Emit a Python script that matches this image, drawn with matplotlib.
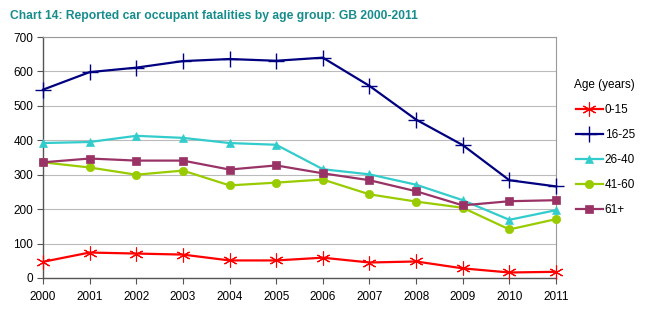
import matplotlib
matplotlib.use("Agg")
import matplotlib.pyplot as plt

years = list(range(2000, 2012))
age_groups = ["0-15", "16-25", "26-40", "41-60", "61+"]
v_0_15 = [47, 74, 71, 68, 51, 51, 59, 45, 48, 28, 16, 18]
v_16_25 = [547, 598, 611, 630, 636, 631, 640, 558, 460, 386, 284, 266]
v_26_40 = [392, 395, 413, 407, 392, 387, 316, 301, 271, 226, 169, 197]
v_41_60 = [336, 321, 300, 312, 269, 277, 286, 243, 222, 204, 141, 171]
v_61p = [336, 347, 341, 341, 315, 327, 304, 284, 252, 211, 223, 226]
series = [v_0_15, v_16_25, v_26_40, v_41_60, v_61p]

colors = ["#FF0000", "#000080", "#33CCCC", "#99CC00", "#993366"]
markers = [(6, 2, 0), "+", "^", "o", "s"]
msizes = [10, 11, 6, 6, 6]
mews = [0.8, 1.0, 0.5, 0.5, 0.5]

plt.rcParams['font.family'] = ['Liberation Sans', 'DejaVu Sans']

fig = plt.figure(figsize=(6.54, 3.22), dpi=100)
ax = fig.add_axes([43/654, 1-278/322, (556-43)/654, (278-37)/322])

for vals, c, m, ms, mew, lab in zip(series, colors, markers, msizes, mews, age_groups):
    ax.plot(years, vals, color=c, marker=m, markersize=ms, lw=1.6,
            markeredgewidth=mew, markeredgecolor=c, label=lab,
            clip_on=False, zorder=3)

ax.set_xlim(2000, 2011)
ax.set_ylim(0, 700)
ax.set_yticks(range(0, 701, 100))
ax.set_xticks(years)
ax.grid(axis='y', color='#BBBBBB', lw=0.8)
ax.set_axisbelow(True)
for s in ["top", "right"]:
    ax.spines[s].set_color('#999999')
    ax.spines[s].set_linewidth(0.8)
for s in ["left", "bottom"]:
    ax.spines[s].set_color('#555555')
    ax.spines[s].set_linewidth(1.0)
ax.tick_params(axis='both', labelsize=8.5, length=4, color='#555555', pad=3)
ax.tick_params(axis='x', pad=5)

leg = ax.legend(loc='upper left', bbox_to_anchor=(1.015, 0.87), frameon=False,
                title="Age (years)", fontsize=8.5, title_fontsize=8.5,
                handlelength=2.3, labelspacing=1.1, handletextpad=0.15)
leg._legend_box.align = "right"

fig.text(10/654, 1-16/322, "Chart 14: Reported car occupant fatalities by age group: GB 2000-2011",
         color="#178C8C", fontsize=8.7, fontweight='bold', va='center', ha='left')

fig.savefig("out.png", dpi=100)
